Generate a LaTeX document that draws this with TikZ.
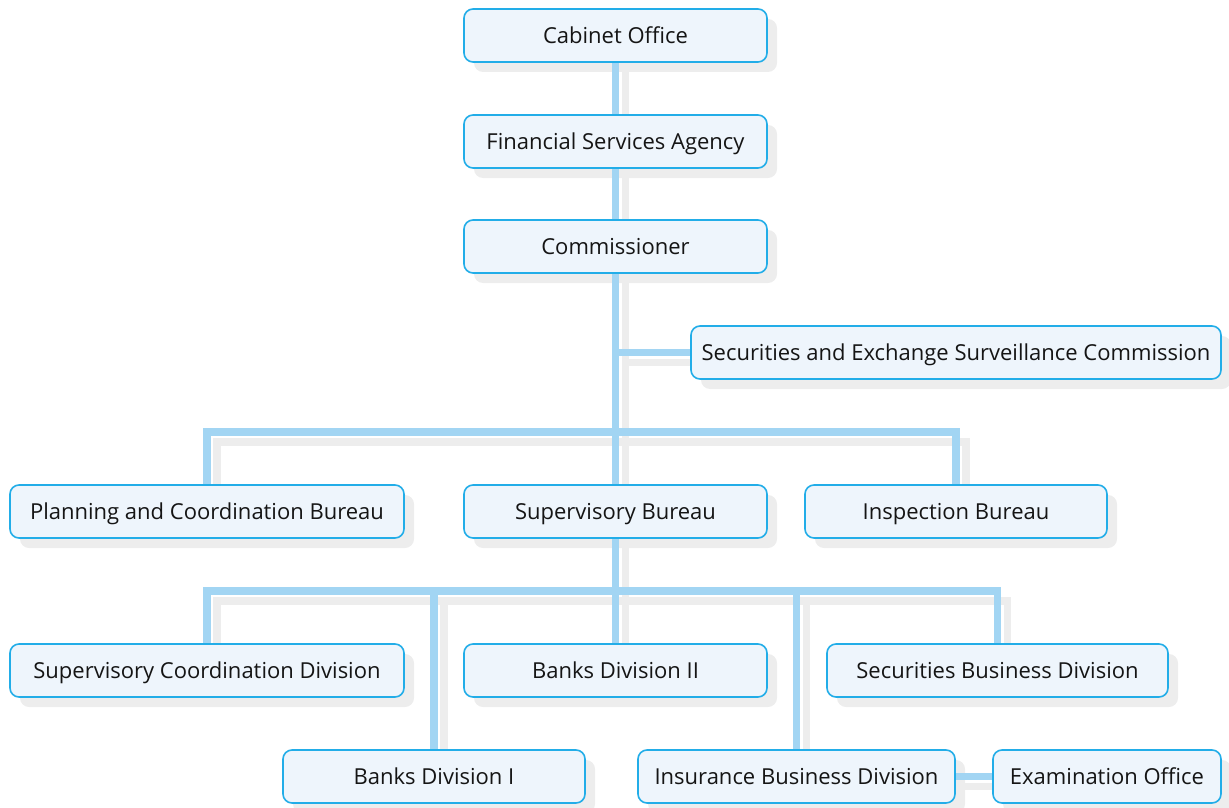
\documentclass[tikz,border=0pt]{standalone}
\usepackage{fontspec}
\setmainfont{Open Sans}
\usetikzlibrary{calc}
\definecolor{boxfill}{HTML}{EEF5FC}
\definecolor{boxline}{HTML}{22ADE8}
\definecolor{conn}{HTML}{A2D5F3}
\definecolor{shade}{HTML}{EDEDED}
\definecolor{txt}{HTML}{151515}
\pgfdeclarelayer{back}
\pgfsetlayers{back,main}
\tikzset{
  orgbox/.style={draw=boxline, line width=1.6pt, fill=boxfill, rounded corners=9pt,
    minimum height=53pt, inner sep=0pt, outer sep=0pt, text=txt,
    font=\fontsize{22}{26}\selectfont, text height=16pt, text depth=0pt},
  link/.style={draw=conn, line width=7.5pt},
  linkshade/.style={draw=shade, line width=7.5pt},
  boxshade/.style={fill=shade, rounded corners=9pt},
}
\begin{document}
\begin{tikzpicture}[x=1pt,y=-1pt]
\useasboundingbox (0,0) rectangle (1229,808);
\node[orgbox, minimum width=303pt] (co) at (615.5,35.5) {Cabinet Office};
\node[orgbox, minimum width=303pt] (fsa) at (615.5,141.5) {Financial Services Agency};
\node[orgbox, minimum width=303pt] (com) at (615.5,246.5) {Commissioner};
\node[orgbox, minimum width=530pt] (sesc) at (956,352.5) {Securities and Exchange Surveillance Commission};
\node[orgbox, minimum width=394pt] (pcb) at (207,511.5) {Planning and Coordination Bureau};
\node[orgbox, minimum width=303pt] (sb) at (615.5,511.5) {Supervisory Bureau};
\node[orgbox, minimum width=302pt] (ib) at (956,511.5) {Inspection Bureau};
\node[orgbox, minimum width=394pt] (scd) at (207,670.5) {Supervisory Coordination Division};
\node[orgbox, minimum width=303pt] (b2) at (615.5,670.5) {Banks Division II};
\node[orgbox, minimum width=341pt] (sbd) at (997.5,670.5) {Securities Business Division};
\node[orgbox, minimum width=302pt] (b1) at (434,776.5) {Banks Division I};
\node[orgbox, minimum width=317pt] (ibd) at (796.5,776.5) {Insurance Business Division};
\node[orgbox, minimum width=228pt] (eo) at (1107,776.5) {Examination Office};
\coordinate (bar1) at (615.5,432);
\coordinate (bar2) at (615.5,591);
\begin{pgfonlayer}{back}
  % box shadows
  \foreach \n in {co,fsa,com,sesc,pcb,sb,ib,scd,b2,sbd,b1,ibd,eo}{
    \path[boxshade] ([shift={(10,10)}]\n.south west) rectangle ([shift={(10,10)}]\n.north east);
  }
  % connector shadows and connectors
  \foreach \st/\dx in {linkshade/10,link/0}{
    \begin{scope}[transform canvas={shift={(\dx,\dx)}}]
      \draw[\st] (co.south) -- (fsa.north);
      \draw[\st] (fsa.south) -- (com.north);
      \draw[\st] (com.south) -- (sb.north);
      \draw[\st] (com.south |- sesc.west) -- (sesc.west);
      \draw[\st] (pcb.north) |- (bar1) -| (ib.north);
      \draw[\st] (sb.south) -- (b2.north);
      \draw[\st] (scd.north) |- (bar2) -| (sbd.north);
      \draw[\st] (b1.north) -- (b1.north |- bar2);
      \draw[\st] (ibd.north) -- (ibd.north |- bar2);
      \draw[\st] (ibd.east) -- (eo.west);
    \end{scope}
  }
\end{pgfonlayer}
\end{tikzpicture}
\end{document}
